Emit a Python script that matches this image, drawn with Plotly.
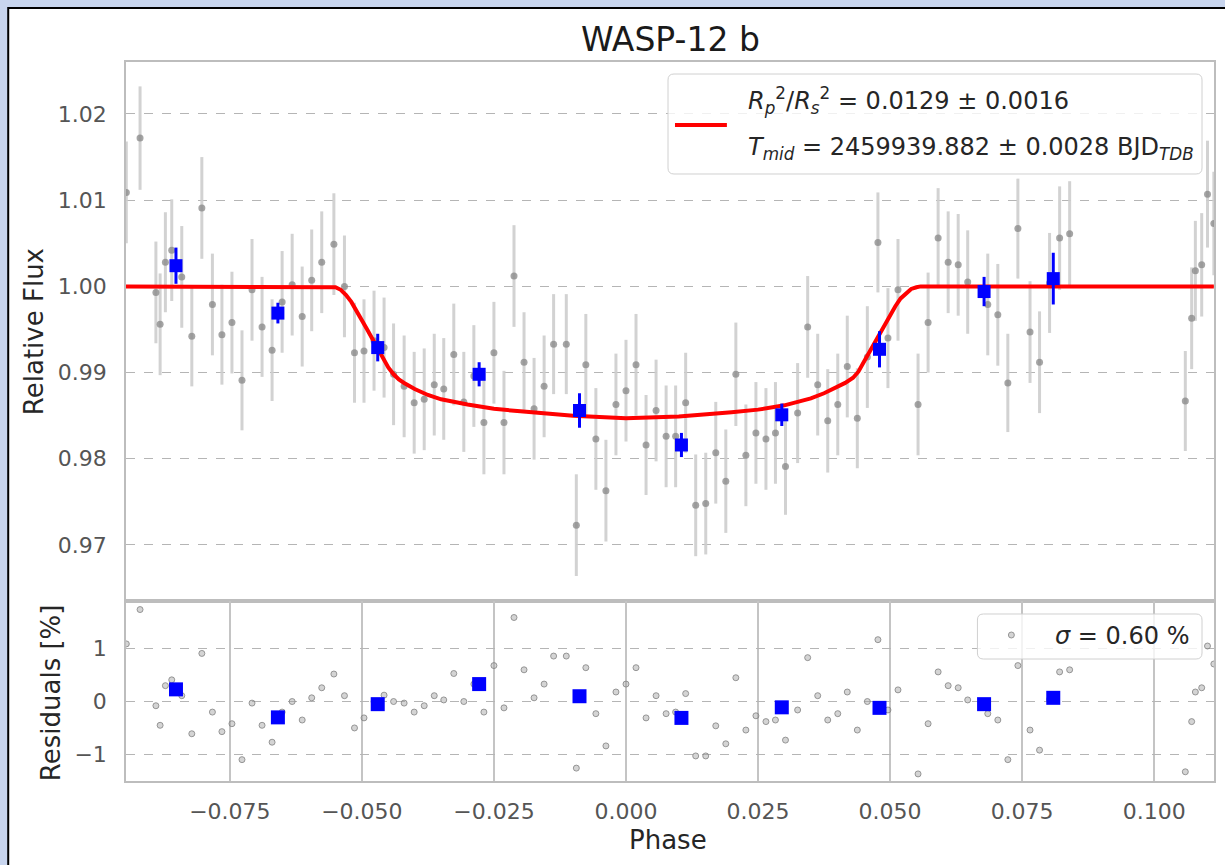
import plotly.graph_objects as go

# ---------------- data ----------------
phase = [
    -0.0946, -0.0920, -0.0890, -0.0882, -0.0872, -0.0860, -0.0841, -0.0822, -0.0803, -0.0783,
    -0.0765, -0.0746, -0.0727, -0.0708, -0.0689, -0.0670, -0.0651, -0.0632, -0.0613, -0.0595,
    -0.0576, -0.0553, -0.0533, -0.0514, -0.0496, -0.0477, -0.0458, -0.0440, -0.0420, -0.0401,
    -0.0382, -0.0363, -0.0345, -0.0326, -0.0307, -0.0288, -0.0269, -0.0250, -0.0231, -0.0212,
    -0.0193, -0.0174, -0.0155, -0.0137, -0.0113, -0.0094, -0.0076, -0.0057, -0.0038, -0.0019,
    0.0000, 0.0019, 0.0038, 0.0057, 0.0076, 0.0094, 0.0113, 0.0132, 0.0151, 0.0170,
    0.0189, 0.0208, 0.0227, 0.0246, 0.0265, 0.0283, 0.0302, 0.0325, 0.0344, 0.0363,
    0.0382, 0.0401, 0.0419, 0.0438, 0.0457, 0.0477, 0.0496, 0.0515, 0.0553, 0.0572,
    0.0591, 0.0610, 0.0629, 0.0647, 0.0685, 0.0704, 0.0723, 0.0742, 0.0765, 0.0783,
    0.0802, 0.0821, 0.0840, 0.1059, 0.1071, 0.1078, 0.1090, 0.1101, 0.1113,
]
flux = [
    1.0109, 1.0172, 0.9993, 0.9956, 1.0028, 1.0042, 1.0011, 0.9942, 1.0091, 0.9979,
    0.9944, 0.9958, 0.9891, 0.9996, 0.9953, 0.9926, 0.9982, 1.0002, 0.9965, 1.0007,
    1.0028, 1.0049, 1.0000, 0.9923, 0.9925, 0.9937, 0.9929, 0.9898, 0.9884, 0.9865,
    0.9869, 0.9886, 0.9881, 0.9921, 0.9866, 0.9896, 0.9842, 0.9923, 0.9842, 1.0012,
    0.9912, 0.9858, 0.9884, 0.9933, 0.9933, 0.9723, 0.9909, 0.9823, 0.9763, 0.9863,
    0.9879, 0.9909, 0.9816, 0.9856, 0.9826, 0.9826, 0.9865, 0.9746, 0.9748, 0.9807,
    0.9774, 0.9898, 0.9804, 0.9830, 0.9823, 0.9830, 0.9791, 0.9853, 0.9953, 0.9886,
    0.9844, 0.9863, 0.9907, 0.9847, 0.9918, 1.0051, 0.9940, 0.9996, 0.9863, 0.9958,
    1.0056, 1.0028, 1.0025, 1.0005, 0.9979, 0.9967, 0.9888, 1.0067, 0.9947, 0.9912,
    1.0004, 1.0056, 1.0061, 0.9867, 0.9963, 1.0018, 1.0025, 1.0107, 1.0073,
]
flux_err = [
    0.0059, 0.0060, 0.0059, 0.0059, 0.0058, 0.0059, 0.0059, 0.0058, 0.0059, 0.0059,
    0.0058, 0.0059, 0.0058, 0.0059, 0.0058, 0.0059, 0.0059, 0.0059, 0.0058, 0.0059,
    0.0059, 0.0059, 0.0059, 0.0058, 0.0060, 0.0058, 0.0058, 0.0059, 0.0059, 0.0059,
    0.0059, 0.0059, 0.0059, 0.0059, 0.0058, 0.0059, 0.0060, 0.0059, 0.0060, 0.0059,
    0.0058, 0.0059, 0.0059, 0.0058, 0.0058, 0.0059, 0.0059, 0.0059, 0.0059, 0.0059,
    0.0059, 0.0059, 0.0058, 0.0059, 0.0059, 0.0059, 0.0058, 0.0059, 0.0059, 0.0059,
    0.0060, 0.0060, 0.0059, 0.0059, 0.0059, 0.0059, 0.0056, 0.0058, 0.0059, 0.0059,
    0.0060, 0.0059, 0.0059, 0.0058, 0.0059, 0.0058, 0.0058, 0.0059, 0.0059, 0.0058,
    0.0058, 0.0059, 0.0059, 0.0060, 0.0059, 0.0059, 0.0057, 0.0058, 0.0059, 0.0059,
    0.0058, 0.0060, 0.0061, 0.0058, 0.0059, 0.0058, 0.0060, 0.0062, 0.0060,
]
residual_pct = [
    1.09, 1.74, -0.08, -0.45, 0.30, 0.41, 0.11, -0.61, 0.91, -0.20,
    -0.57, -0.42, -1.10, -0.03, -0.45, -0.77, -0.20, 0.00, -0.35, 0.07,
    0.26, 0.52, 0.11, -0.50, -0.31, 0.00, 0.12, 0.00, -0.03, -0.20,
    -0.08, 0.11, 0.03, 0.53, 0.00, 0.33, -0.20, 0.68, -0.12, 1.59,
    0.60, 0.07, 0.33, 0.86, 0.86, -1.26, 0.64, -0.23, -0.84, 0.18,
    0.33, 0.64, -0.31, 0.11, -0.23, -0.20, 0.15, -1.03, -1.03, -0.46,
    -0.80, 0.45, -0.54, -0.27, -0.38, -0.35, -0.73, -0.16, 0.83, 0.11,
    -0.35, -0.23, 0.18, -0.54, 0.00, 1.17, -0.16, 0.22, -1.37, -0.42,
    0.56, 0.30, 0.26, 0.03, -0.23, -0.35, -1.10, 0.68, -0.54, -0.92,
    0.04, 0.56, 0.60, -1.33, -0.38, 0.18, 0.26, 1.05, 0.71,
]

bin_phase = [-0.0852, -0.0659, -0.0470, -0.0278, -0.0088, 0.0105, 0.0295, 0.0480, 0.0678, 0.0809]
bin_flux = [1.0024, 0.9969, 0.9929, 0.9898, 0.9856, 0.9816, 0.9851, 0.9927, 0.9994, 1.0009]
bin_err = [0.0021, 0.0012, 0.0016, 0.0014, 0.0020, 0.0014, 0.0013, 0.0021, 0.0017, 0.0030]
bin_resid = [0.23, -0.30, -0.05, 0.33, 0.10, -0.31, -0.11, -0.12, -0.05, 0.07]

model_phase = [-0.0947, -0.0560, -0.0550, -0.0540, -0.0530, -0.0520, -0.0510, -0.0500,
               -0.0490, -0.0480, -0.0470, -0.0460, -0.0450, -0.0440, -0.0430, -0.0420,
               -0.0400, -0.0375, -0.0350, -0.0300, -0.0250, -0.0200, -0.0100, 0.0000,
               0.0100, 0.0200, 0.0250, 0.0300, 0.0350, 0.0375, 0.0400, 0.0415, 0.0430,
               0.0440, 0.0450, 0.0460, 0.0470, 0.0480, 0.0490, 0.0500, 0.0510, 0.0520,
               0.0530, 0.0540, 0.0550, 0.0558, 0.1113]
model_flux = [1.0000, 1.0000, 0.9999, 0.9996, 0.9990, 0.9982, 0.9972, 0.9961,
              0.9950, 0.9939, 0.9928, 0.9917, 0.9906, 0.9898, 0.9892, 0.9888,
              0.9881, 0.9874, 0.9869, 0.9863, 0.9858, 0.9855, 0.9850, 0.9847,
              0.9849, 0.9854, 0.9857, 0.9862, 0.9870, 0.9876, 0.9883, 0.9888, 0.9894,
              0.9901, 0.9912, 0.9923, 0.9934, 0.9945, 0.9956, 0.9967, 0.9977, 0.9986,
              0.9992, 0.9997, 0.9999, 1.0000, 1.0000]

flux_ticks = [0.97, 0.98, 0.99, 1.00, 1.01, 1.02]
flux_ticktext = ["0.97", "0.98", "0.99", "1.00", "1.01", "1.02"]
resid_ticks = [-1, 0, 1]
resid_ticktext = ["\u22121", "0", "1"]
phase_ticks = [-0.075, -0.05, -0.025, 0.0, 0.025, 0.05, 0.075, 0.1]
phase_ticktext = ["\u22120.075", "\u22120.050", "\u22120.025", "0.000",
                  "0.025", "0.050", "0.075", "0.100"]

title_text = "WASP-12 b"
legend_line1 = ("<i>R</i><sub><i>p</i></sub><sup>2</sup>/<i>R</i><sub><i>s</i></sub><sup>2</sup>"
                " = 0.0129 \u00b1 0.0016")
legend_line2 = ("<i>T</i><sub><i>mid</i></sub> = 2459939.882 \u00b1 0.0028 BJD<sub><i>TDB</i></sub>")
resid_legend = "<i>\u03c3</i> = 0.60 %"

# ---------------- layout geometry ----------------
W, H = 1225, 865
ML, MR, MT, MB = 126, 9, 62, 84
PW, PH = W - ML - MR, H - MT - MB


def px2x(px):
    return (px - ML) / PW


def py2y(py):
    return (H - MB - py) / PH


split = py2y(601)
FONT = "DejaVu Sans"
TICKC = "#555555"
TXTC = "#262626"

fig = go.Figure()

# top panel
fig.add_trace(go.Scatter(
    x=phase, y=flux, mode="markers", xaxis="x", yaxis="y",
    marker=dict(size=7, color="rgba(135,135,135,0.75)"),
    error_y=dict(type="data", array=flux_err, visible=True, thickness=3, width=0,
                 color="rgba(205,205,205,0.9)"),
    showlegend=False, hoverinfo="skip"))
fig.add_trace(go.Scatter(
    x=model_phase, y=model_flux, mode="lines", xaxis="x", yaxis="y",
    line=dict(color="#ff0000", width=4, shape="linear"),
    showlegend=False, hoverinfo="skip"))
fig.add_trace(go.Scatter(
    x=bin_phase, y=bin_flux, mode="markers", xaxis="x", yaxis="y",
    marker=dict(symbol="square", size=13, color="#0000ff"),
    error_y=dict(type="data", array=bin_err, visible=True, thickness=3, width=0, color="#0000ff"),
    showlegend=False, hoverinfo="skip"))

# bottom panel
fig.add_trace(go.Scatter(
    x=phase, y=residual_pct, mode="markers", xaxis="x2", yaxis="y2",
    marker=dict(size=6, color="rgba(160,160,160,0.45)",
                line=dict(color="rgba(130,130,130,0.8)", width=1)),
    showlegend=False, hoverinfo="skip"))
fig.add_trace(go.Scatter(
    x=bin_phase, y=bin_resid, mode="markers", xaxis="x2", yaxis="y2",
    marker=dict(symbol="square", size=14, color="#0000ff"),
    showlegend=False, hoverinfo="skip"))

xr = [-0.09466, 0.11133]
axis_common = dict(showline=True, mirror=True, linecolor="#bdbdbd", linewidth=1.5,
                   zeroline=False, ticks="",
                   tickfont=dict(family=FONT, size=22, color=TICKC))

fig.update_layout(
    width=W, height=H,
    margin=dict(l=ML, r=MR, t=MT, b=MB, pad=0),
    paper_bgcolor="#c8d5ee",
    plot_bgcolor="white",
    font=dict(family=FONT, color=TXTC),
    showlegend=False,
    xaxis=dict(domain=[0, 1], anchor="y", range=xr, showticklabels=False, showgrid=False,
               **axis_common),
    yaxis=dict(domain=[split, 1], anchor="x", range=[0.96350, 1.02603],
               tickvals=flux_ticks, ticktext=flux_ticktext,
               showgrid=True, griddash="dash", gridcolor="#b5b5b5", gridwidth=1,
               ticklabelstandoff=13, **axis_common),
    xaxis2=dict(domain=[0, 1], anchor="y2", range=xr,
                tickvals=phase_ticks, ticktext=phase_ticktext,
                showgrid=True, gridcolor="#c4c4c4", gridwidth=1.5,
                ticklabelstandoff=10, **axis_common),
    yaxis2=dict(domain=[0, split], anchor="x2", range=[-1.504, 1.902],
                tickvals=resid_ticks, ticktext=resid_ticktext,
                showgrid=True, griddash="dash", gridcolor="#b5b5b5", gridwidth=1,
                ticklabelstandoff=13, **axis_common),
)


def rrect(x0, y0, x1, y1, r):
    pts = [
        ("M", [(x0 + r, y0)]), ("L", [(x1 - r, y0)]), ("Q", [(x1, y0), (x1, y0 + r)]),
        ("L", [(x1, y1 - r)]), ("Q", [(x1, y1), (x1 - r, y1)]), ("L", [(x0 + r, y1)]),
        ("Q", [(x0, y1), (x0, y1 - r)]), ("L", [(x0, y0 + r)]), ("Q", [(x0, y0), (x0 + r, y0)]),
    ]
    s = ""
    for cmd, ps in pts:
        s += cmd + " ".join(f"{px2x(a):.5f},{py2y(b):.5f}" for a, b in ps) + " "
    return s + "Z"


shapes = [
    # white figure area with black frame
    dict(type="rect", xref="paper", yref="paper", x0=px2x(8), x1=px2x(1250),
         y0=py2y(890), y1=py2y(8), fillcolor="white",
         line=dict(color="black", width=2), layer="below"),
    # top legend
    dict(type="path", xref="paper", yref="paper", path=rrect(669, 74, 1204, 174, 6),
         fillcolor="rgba(255,255,255,0.8)", line=dict(color="#d0d0d0", width=1), layer="above"),
    dict(type="line", xref="paper", yref="paper", x0=px2x(676), x1=px2x(728),
         y0=py2y(125), y1=py2y(125), line=dict(color="#ff0000", width=4), layer="above"),
    # residual legend
    dict(type="path", xref="paper", yref="paper", path=rrect(979, 614, 1204, 659, 6),
         fillcolor="rgba(255,255,255,0.8)", line=dict(color="#d0d0d0", width=1), layer="above"),
    dict(type="circle", xref="paper", yref="paper", x0=px2x(1010), x1=px2x(1016),
         y0=py2y(638), y1=py2y(632), fillcolor="rgba(160,160,160,0.45)",
         line=dict(color="rgba(130,130,130,0.8)", width=1), layer="above"),
]
fig.update_layout(shapes=shapes)

annotations = [
    dict(text=title_text, x=px2x(671), y=py2y(40), xanchor="center", yanchor="middle",
         font=dict(family=FONT, size=33, color="#1a1a1a")),
    dict(text="Phase", x=px2x(669), y=py2y(840), xanchor="center", yanchor="middle",
         font=dict(family=FONT, size=26, color=TXTC)),
    dict(text="Relative Flux", x=px2x(34), y=py2y(332), xanchor="center", yanchor="middle",
         textangle=-90, font=dict(family=FONT, size=26, color=TXTC)),
    dict(text="Residuals [%]", x=px2x(51), y=py2y(693), xanchor="center", yanchor="middle",
         textangle=-90, font=dict(family=FONT, size=26, color=TXTC)),
    dict(text=legend_line1, x=px2x(747), y=py2y(101), xanchor="left", yanchor="middle",
         font=dict(family=FONT, size=24, color=TXTC)),
    dict(text=legend_line2, x=px2x(747), y=py2y(148), xanchor="left", yanchor="middle",
         font=dict(family=FONT, size=24, color=TXTC)),
    dict(text=resid_legend, x=px2x(1193), y=py2y(636), xanchor="right", yanchor="middle",
         font=dict(family=FONT, size=24, color=TXTC)),
]
for a in annotations:
    a.update(xref="paper", yref="paper", showarrow=False)
fig.update_layout(annotations=annotations)

fig.write_html("out.html")
